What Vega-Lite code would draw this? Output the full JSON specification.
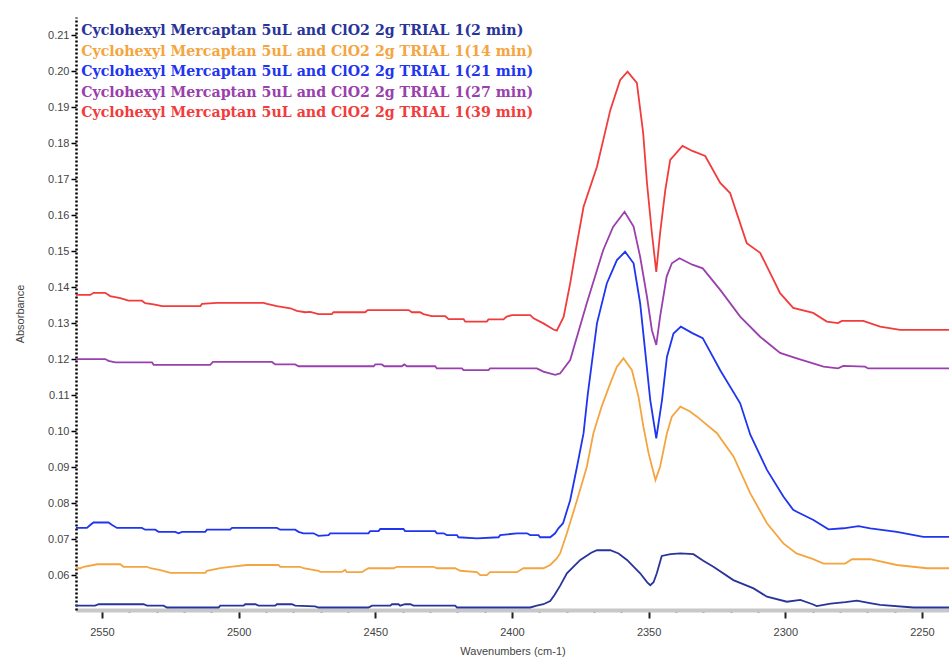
{
 "$schema": "https://vega.github.io/schema/vega-lite/v6.json",
 "width": 873,
 "height": 593,
 "autosize": {"type": "none"},
 "padding": {"left": 76, "top": 17, "right": 0, "bottom": 54},
 "background": "white",
 "config": {"view": {"stroke": null}},
 "data": {"values": [
  {"s":"2 min","wn":2560,"a":0.0515},{"s":"2 min","wn":2552.5,"a":0.0515},{"s":"2 min","wn":2551.2,"a":0.0519},{"s":"2 min","wn":2534.8,"a":0.0519},{"s":"2 min","wn":2533.5,"a":0.0515},{"s":"2 min","wn":2527.5,"a":0.0515},{"s":"2 min","wn":2526.2,"a":0.051},{"s":"2 min","wn":2507.3,"a":0.051},{"s":"2 min","wn":2506.7,"a":0.0515},{"s":"2 min","wn":2498.2,"a":0.0515},{"s":"2 min","wn":2497.6,"a":0.0519},{"s":"2 min","wn":2493.9,"a":0.0519},{"s":"2 min","wn":2492.7,"a":0.0515},{"s":"2 min","wn":2486.6,"a":0.0515},{"s":"2 min","wn":2486,"a":0.0519},{"s":"2 min","wn":2480.5,"a":0.0519},{"s":"2 min","wn":2479.3,"a":0.0515},{"s":"2 min","wn":2472,"a":0.0513},{"s":"2 min","wn":2470.8,"a":0.051},{"s":"2 min","wn":2452.5,"a":0.051},{"s":"2 min","wn":2451.2,"a":0.0515},{"s":"2 min","wn":2444.5,"a":0.0515},{"s":"2 min","wn":2443.9,"a":0.0519},{"s":"2 min","wn":2441.5,"a":0.0519},{"s":"2 min","wn":2440.9,"a":0.0515},{"s":"2 min","wn":2439.1,"a":0.0519},{"s":"2 min","wn":2437.2,"a":0.0519},{"s":"2 min","wn":2436,"a":0.0515},{"s":"2 min","wn":2420.8,"a":0.0515},{"s":"2 min","wn":2420.1,"a":0.051},{"s":"2 min","wn":2393.3,"a":0.051},{"s":"2 min","wn":2390.9,"a":0.0515},{"s":"2 min","wn":2388.5,"a":0.0519},{"s":"2 min","wn":2386,"a":0.0528},{"s":"2 min","wn":2384.5,"a":0.0544},{"s":"2 min","wn":2382.4,"a":0.057},{"s":"2 min","wn":2379.9,"a":0.0605},{"s":"2 min","wn":2375,"a":0.0642},{"s":"2 min","wn":2371,"a":0.0662},{"s":"2 min","wn":2368.9,"a":0.0669},{"s":"2 min","wn":2364,"a":0.0669},{"s":"2 min","wn":2361,"a":0.066},{"s":"2 min","wn":2357.9,"a":0.0642},{"s":"2 min","wn":2353.1,"a":0.0605},{"s":"2 min","wn":2350.5,"a":0.058},{"s":"2 min","wn":2349.4,"a":0.0572},{"s":"2 min","wn":2348.2,"a":0.058},{"s":"2 min","wn":2347,"a":0.0605},{"s":"2 min","wn":2345.2,"a":0.0653},{"s":"2 min","wn":2342,"a":0.0658},{"s":"2 min","wn":2338.4,"a":0.066},{"s":"2 min","wn":2333.6,"a":0.0658},{"s":"2 min","wn":2330,"a":0.064},{"s":"2 min","wn":2326.3,"a":0.0623},{"s":"2 min","wn":2319,"a":0.0586},{"s":"2 min","wn":2311.6,"a":0.0563},{"s":"2 min","wn":2306.7,"a":0.054},{"s":"2 min","wn":2299.4,"a":0.0526},{"s":"2 min","wn":2294.5,"a":0.0531},{"s":"2 min","wn":2290,"a":0.0519},{"s":"2 min","wn":2288.5,"a":0.0514},{"s":"2 min","wn":2283.4,"a":0.0521},{"s":"2 min","wn":2278,"a":0.0525},{"s":"2 min","wn":2273.8,"a":0.0529},{"s":"2 min","wn":2269,"a":0.0522},{"s":"2 min","wn":2265.3,"a":0.0517},{"s":"2 min","wn":2253.1,"a":0.051},{"s":"2 min","wn":2240,"a":0.051},

  {"s":"14 min","wn":2560,"a":0.0619},{"s":"14 min","wn":2557.9,"a":0.0619},{"s":"14 min","wn":2556.7,"a":0.0623},{"s":"14 min","wn":2553.1,"a":0.0628},{"s":"14 min","wn":2551.8,"a":0.063},{"s":"14 min","wn":2543.3,"a":0.063},{"s":"14 min","wn":2542.1,"a":0.0623},{"s":"14 min","wn":2533.5,"a":0.0623},{"s":"14 min","wn":2532.3,"a":0.0619},{"s":"14 min","wn":2528.6,"a":0.0614},{"s":"14 min","wn":2526.2,"a":0.0609},{"s":"14 min","wn":2525,"a":0.0606},{"s":"14 min","wn":2512.2,"a":0.0606},{"s":"14 min","wn":2511.6,"a":0.0612},{"s":"14 min","wn":2506.7,"a":0.0619},{"s":"14 min","wn":2503.1,"a":0.0623},{"s":"14 min","wn":2497,"a":0.0628},{"s":"14 min","wn":2485.4,"a":0.0628},{"s":"14 min","wn":2484.8,"a":0.0623},{"s":"14 min","wn":2477.5,"a":0.0623},{"s":"14 min","wn":2476.3,"a":0.0619},{"s":"14 min","wn":2470.8,"a":0.0612},{"s":"14 min","wn":2470.1,"a":0.0609},{"s":"14 min","wn":2462.2,"a":0.0609},{"s":"14 min","wn":2461,"a":0.0614},{"s":"14 min","wn":2460.4,"a":0.0608},{"s":"14 min","wn":2454.9,"a":0.0608},{"s":"14 min","wn":2453.7,"a":0.0614},{"s":"14 min","wn":2452.5,"a":0.0619},{"s":"14 min","wn":2443.3,"a":0.0619},{"s":"14 min","wn":2442.1,"a":0.0623},{"s":"14 min","wn":2428.7,"a":0.0623},{"s":"14 min","wn":2427.5,"a":0.0619},{"s":"14 min","wn":2420.8,"a":0.0619},{"s":"14 min","wn":2418.9,"a":0.0612},{"s":"14 min","wn":2412.8,"a":0.0608},{"s":"14 min","wn":2411.6,"a":0.06},{"s":"14 min","wn":2409.2,"a":0.06},{"s":"14 min","wn":2408,"a":0.0608},{"s":"14 min","wn":2398.2,"a":0.0608},{"s":"14 min","wn":2395.8,"a":0.0619},{"s":"14 min","wn":2388.5,"a":0.0619},{"s":"14 min","wn":2386,"a":0.0628},{"s":"14 min","wn":2383.6,"a":0.0646},{"s":"14 min","wn":2382.4,"a":0.066},{"s":"14 min","wn":2379.9,"a":0.0716},{"s":"14 min","wn":2376.2,"a":0.0808},{"s":"14 min","wn":2372.6,"a":0.0901},{"s":"14 min","wn":2370.2,"a":0.0994},{"s":"14 min","wn":2367.1,"a":0.107},{"s":"14 min","wn":2364,"a":0.1133},{"s":"14 min","wn":2361.6,"a":0.1179},{"s":"14 min","wn":2359.2,"a":0.1202},{"s":"14 min","wn":2356.1,"a":0.1169},{"s":"14 min","wn":2353.7,"a":0.1095},{"s":"14 min","wn":2351.9,"a":0.1012},{"s":"14 min","wn":2350,"a":0.0938},{"s":"14 min","wn":2347.5,"a":0.0864},{"s":"14 min","wn":2345.8,"a":0.0901},{"s":"14 min","wn":2343.3,"a":0.0994},{"s":"14 min","wn":2341.5,"a":0.104},{"s":"14 min","wn":2338.4,"a":0.1068},{"s":"14 min","wn":2335,"a":0.1055},{"s":"14 min","wn":2332.3,"a":0.104},{"s":"14 min","wn":2325,"a":0.0994},{"s":"14 min","wn":2318.9,"a":0.0929},{"s":"14 min","wn":2312.8,"a":0.0827},{"s":"14 min","wn":2306.7,"a":0.0744},{"s":"14 min","wn":2300.7,"a":0.0688},{"s":"14 min","wn":2295.9,"a":0.066},{"s":"14 min","wn":2290,"a":0.0645},{"s":"14 min","wn":2286,"a":0.0632},{"s":"14 min","wn":2278.1,"a":0.0632},{"s":"14 min","wn":2275.6,"a":0.0644},{"s":"14 min","wn":2268.9,"a":0.0644},{"s":"14 min","wn":2259.2,"a":0.0628},{"s":"14 min","wn":2248.2,"a":0.0619},{"s":"14 min","wn":2240,"a":0.0619},

  {"s":"21 min","wn":2560,"a":0.0731},{"s":"21 min","wn":2555.5,"a":0.0731},{"s":"21 min","wn":2554.3,"a":0.0739},{"s":"21 min","wn":2553.1,"a":0.0746},{"s":"21 min","wn":2547.6,"a":0.0746},{"s":"21 min","wn":2546.3,"a":0.0739},{"s":"21 min","wn":2544.5,"a":0.0731},{"s":"21 min","wn":2535.4,"a":0.0731},{"s":"21 min","wn":2534.2,"a":0.0726},{"s":"21 min","wn":2530.5,"a":0.0726},{"s":"21 min","wn":2529.3,"a":0.072},{"s":"21 min","wn":2523.2,"a":0.072},{"s":"21 min","wn":2522,"a":0.0716},{"s":"21 min","wn":2520.7,"a":0.072},{"s":"21 min","wn":2512.2,"a":0.072},{"s":"21 min","wn":2511.6,"a":0.0726},{"s":"21 min","wn":2503.1,"a":0.0726},{"s":"21 min","wn":2502.4,"a":0.0731},{"s":"21 min","wn":2486,"a":0.0731},{"s":"21 min","wn":2484.8,"a":0.0726},{"s":"21 min","wn":2479.3,"a":0.0726},{"s":"21 min","wn":2478.1,"a":0.072},{"s":"21 min","wn":2476.3,"a":0.0716},{"s":"21 min","wn":2472.6,"a":0.0716},{"s":"21 min","wn":2470.8,"a":0.0709},{"s":"21 min","wn":2467.1,"a":0.0711},{"s":"21 min","wn":2466.5,"a":0.0716},{"s":"21 min","wn":2452.5,"a":0.0716},{"s":"21 min","wn":2451.9,"a":0.0722},{"s":"21 min","wn":2448.8,"a":0.0722},{"s":"21 min","wn":2448.2,"a":0.0728},{"s":"21 min","wn":2439.7,"a":0.0728},{"s":"21 min","wn":2439.1,"a":0.0722},{"s":"21 min","wn":2428.1,"a":0.0722},{"s":"21 min","wn":2427.5,"a":0.0716},{"s":"21 min","wn":2425,"a":0.0716},{"s":"21 min","wn":2423.8,"a":0.0711},{"s":"21 min","wn":2420.1,"a":0.0711},{"s":"21 min","wn":2419.6,"a":0.0705},{"s":"21 min","wn":2412.8,"a":0.0702},{"s":"21 min","wn":2404.9,"a":0.0705},{"s":"21 min","wn":2404.3,"a":0.0711},{"s":"21 min","wn":2398.2,"a":0.0716},{"s":"21 min","wn":2394.5,"a":0.0716},{"s":"21 min","wn":2393.3,"a":0.0711},{"s":"21 min","wn":2390.3,"a":0.0711},{"s":"21 min","wn":2389.7,"a":0.0705},{"s":"21 min","wn":2386,"a":0.0705},{"s":"21 min","wn":2384.2,"a":0.0716},{"s":"21 min","wn":2383,"a":0.073},{"s":"21 min","wn":2381.3,"a":0.0744},{"s":"21 min","wn":2378.7,"a":0.0808},{"s":"21 min","wn":2376.2,"a":0.0901},{"s":"21 min","wn":2373.8,"a":0.0994},{"s":"21 min","wn":2372.3,"a":0.11},{"s":"21 min","wn":2368.9,"a":0.1299},{"s":"21 min","wn":2365.3,"a":0.141},{"s":"21 min","wn":2361.6,"a":0.1475},{"s":"21 min","wn":2358.6,"a":0.1498},{"s":"21 min","wn":2355.5,"a":0.1466},{"s":"21 min","wn":2353.1,"a":0.1355},{"s":"21 min","wn":2351.3,"a":0.1225},{"s":"21 min","wn":2349.4,"a":0.1086},{"s":"21 min","wn":2347.2,"a":0.098},{"s":"21 min","wn":2345.1,"a":0.1086},{"s":"21 min","wn":2343.3,"a":0.1206},{"s":"21 min","wn":2340.9,"a":0.1271},{"s":"21 min","wn":2338.2,"a":0.129},{"s":"21 min","wn":2334,"a":0.1272},{"s":"21 min","wn":2330.2,"a":0.1258},{"s":"21 min","wn":2323.8,"a":0.1169},{"s":"21 min","wn":2316.5,"a":0.1077},{"s":"21 min","wn":2312.8,"a":0.099},{"s":"21 min","wn":2306.7,"a":0.0892},{"s":"21 min","wn":2300.7,"a":0.0818},{"s":"21 min","wn":2297.1,"a":0.0781},{"s":"21 min","wn":2295.8,"a":0.0776},{"s":"21 min","wn":2289.7,"a":0.0753},{"s":"21 min","wn":2284.2,"a":0.0727},{"s":"21 min","wn":2278.7,"a":0.073},{"s":"21 min","wn":2273.2,"a":0.0736},{"s":"21 min","wn":2268.9,"a":0.073},{"s":"21 min","wn":2259.2,"a":0.072},{"s":"21 min","wn":2249.5,"a":0.0706},{"s":"21 min","wn":2240,"a":0.0706},

  {"s":"27 min","wn":2560,"a":0.12},{"s":"27 min","wn":2548.8,"a":0.12},{"s":"27 min","wn":2547.6,"a":0.1195},{"s":"27 min","wn":2545.1,"a":0.1191},{"s":"27 min","wn":2531.7,"a":0.1191},{"s":"27 min","wn":2531.1,"a":0.1184},{"s":"27 min","wn":2510.4,"a":0.1184},{"s":"27 min","wn":2509.4,"a":0.1192},{"s":"27 min","wn":2487.8,"a":0.1192},{"s":"27 min","wn":2486.6,"a":0.1185},{"s":"27 min","wn":2479.3,"a":0.1185},{"s":"27 min","wn":2478.1,"a":0.118},{"s":"27 min","wn":2450.6,"a":0.118},{"s":"27 min","wn":2450,"a":0.1185},{"s":"27 min","wn":2447.6,"a":0.1185},{"s":"27 min","wn":2446.7,"a":0.118},{"s":"27 min","wn":2440.3,"a":0.118},{"s":"27 min","wn":2439.4,"a":0.1185},{"s":"27 min","wn":2438.4,"a":0.118},{"s":"27 min","wn":2428.1,"a":0.118},{"s":"27 min","wn":2427.5,"a":0.1174},{"s":"27 min","wn":2418.3,"a":0.1174},{"s":"27 min","wn":2417.7,"a":0.1169},{"s":"27 min","wn":2408.6,"a":0.1169},{"s":"27 min","wn":2408,"a":0.1174},{"s":"27 min","wn":2390.9,"a":0.1174},{"s":"27 min","wn":2388.5,"a":0.1165},{"s":"27 min","wn":2384.2,"a":0.1156},{"s":"27 min","wn":2382.4,"a":0.116},{"s":"27 min","wn":2378.7,"a":0.1197},{"s":"27 min","wn":2372.6,"a":0.1356},{"s":"27 min","wn":2366.6,"a":0.1503},{"s":"27 min","wn":2363,"a":0.1567},{"s":"27 min","wn":2358.8,"a":0.1609},{"s":"27 min","wn":2355.5,"a":0.1568},{"s":"27 min","wn":2353.1,"a":0.1484},{"s":"27 min","wn":2350.6,"a":0.1373},{"s":"27 min","wn":2348.8,"a":0.128},{"s":"27 min","wn":2347.2,"a":0.1239},{"s":"27 min","wn":2345.8,"a":0.1318},{"s":"27 min","wn":2343.4,"a":0.1429},{"s":"27 min","wn":2341.5,"a":0.1466},{"s":"27 min","wn":2338.7,"a":0.148},{"s":"27 min","wn":2334,"a":0.1462},{"s":"27 min","wn":2330.2,"a":0.1452},{"s":"27 min","wn":2323.8,"a":0.1392},{"s":"27 min","wn":2316.5,"a":0.1318},{"s":"27 min","wn":2309.2,"a":0.1262},{"s":"27 min","wn":2301.9,"a":0.1217},{"s":"27 min","wn":2295.8,"a":0.1202},{"s":"27 min","wn":2286,"a":0.1179},{"s":"27 min","wn":2280.7,"a":0.1174},{"s":"27 min","wn":2278.8,"a":0.1181},{"s":"27 min","wn":2270.8,"a":0.1179},{"s":"27 min","wn":2269.7,"a":0.1174},{"s":"27 min","wn":2240,"a":0.1174},

  {"s":"39 min","wn":2560,"a":0.1378},{"s":"39 min","wn":2554.3,"a":0.1378},{"s":"39 min","wn":2553.1,"a":0.1384},{"s":"39 min","wn":2548.8,"a":0.1384},{"s":"39 min","wn":2547,"a":0.1375},{"s":"39 min","wn":2543.3,"a":0.1369},{"s":"39 min","wn":2540.3,"a":0.1362},{"s":"39 min","wn":2535.4,"a":0.1362},{"s":"39 min","wn":2534.2,"a":0.1355},{"s":"39 min","wn":2531.1,"a":0.1352},{"s":"39 min","wn":2528,"a":0.1347},{"s":"39 min","wn":2514,"a":0.1347},{"s":"39 min","wn":2513.4,"a":0.1353},{"s":"39 min","wn":2507.9,"a":0.1356},{"s":"39 min","wn":2490.9,"a":0.1356},{"s":"39 min","wn":2489.6,"a":0.1353},{"s":"39 min","wn":2486,"a":0.1347},{"s":"39 min","wn":2481.1,"a":0.1341},{"s":"39 min","wn":2478.7,"a":0.1334},{"s":"39 min","wn":2475.6,"a":0.133},{"s":"39 min","wn":2473.8,"a":0.1331},{"s":"39 min","wn":2470.8,"a":0.1325},{"s":"39 min","wn":2465.9,"a":0.1325},{"s":"39 min","wn":2465.3,"a":0.133},{"s":"39 min","wn":2453.7,"a":0.133},{"s":"39 min","wn":2452.8,"a":0.1336},{"s":"39 min","wn":2437.8,"a":0.1336},{"s":"39 min","wn":2436.6,"a":0.133},{"s":"39 min","wn":2433.6,"a":0.133},{"s":"39 min","wn":2432.4,"a":0.1325},{"s":"39 min","wn":2429.3,"a":0.1319},{"s":"39 min","wn":2424.4,"a":0.1319},{"s":"39 min","wn":2423.2,"a":0.1311},{"s":"39 min","wn":2417.7,"a":0.1311},{"s":"39 min","wn":2417.1,"a":0.1304},{"s":"39 min","wn":2409.2,"a":0.1304},{"s":"39 min","wn":2408.6,"a":0.131},{"s":"39 min","wn":2403.1,"a":0.131},{"s":"39 min","wn":2401.9,"a":0.1318},{"s":"39 min","wn":2400,"a":0.1322},{"s":"39 min","wn":2393.3,"a":0.1322},{"s":"39 min","wn":2392.1,"a":0.1313},{"s":"39 min","wn":2388.5,"a":0.1299},{"s":"39 min","wn":2384.8,"a":0.1282},{"s":"39 min","wn":2383.6,"a":0.1279},{"s":"39 min","wn":2381.1,"a":0.1317},{"s":"39 min","wn":2378.7,"a":0.141},{"s":"39 min","wn":2376.2,"a":0.1522},{"s":"39 min","wn":2373.8,"a":0.1623},{"s":"39 min","wn":2368.9,"a":0.1734},{"s":"39 min","wn":2364,"a":0.1892},{"s":"39 min","wn":2360.4,"a":0.1975},{"s":"39 min","wn":2357.7,"a":0.1998},{"s":"39 min","wn":2354.3,"a":0.1967},{"s":"39 min","wn":2352,"a":0.1828},{"s":"39 min","wn":2350.6,"a":0.1689},{"s":"39 min","wn":2348.8,"a":0.155},{"s":"39 min","wn":2347.2,"a":0.1442},{"s":"39 min","wn":2345.8,"a":0.155},{"s":"39 min","wn":2343.9,"a":0.1669},{"s":"39 min","wn":2342.1,"a":0.1753},{"s":"39 min","wn":2337.6,"a":0.1792},{"s":"39 min","wn":2334,"a":0.1778},{"s":"39 min","wn":2329.3,"a":0.1764},{"s":"39 min","wn":2323.8,"a":0.1689},{"s":"39 min","wn":2320.2,"a":0.1661},{"s":"39 min","wn":2314.1,"a":0.1522},{"s":"39 min","wn":2309.2,"a":0.1495},{"s":"39 min","wn":2305.6,"a":0.144},{"s":"39 min","wn":2301.9,"a":0.1383},{"s":"39 min","wn":2297.1,"a":0.1342},{"s":"39 min","wn":2289.8,"a":0.1328},{"s":"39 min","wn":2284.8,"a":0.1304},{"s":"39 min","wn":2280.7,"a":0.13},{"s":"39 min","wn":2279.3,"a":0.1306},{"s":"39 min","wn":2271.5,"a":0.1306},{"s":"39 min","wn":2265.3,"a":0.129},{"s":"39 min","wn":2258,"a":0.1281},{"s":"39 min","wn":2240,"a":0.1281}
 ]},
 "mark": {"type": "line", "strokeWidth": 1.8, "clip": true},
 "encoding": {
  "x": {"field": "wn", "type": "quantitative",
   "scale": {"domain": [2240.1, 2559.5], "reverse": true, "nice": false, "zero": false},
   "axis": {"title": "Wavenumbers (cm-1)",
    "values": [2250,2260,2270,2280,2290,2300,2310,2320,2330,2340,2350,2360,2370,2380,2390,2400,2410,2420,2430,2440,2450,2460,2470,2480,2490,2500,2510,2520,2530,2540,2550],
    "format": "d",
    "labelExpr": "datum.value % 50 === 0 ? datum.label : ''",
    "grid": false,
    "domainColor": "#c8c8c8", "domainWidth": 4,
    "tickColor": "#222",
    "tickSize": {"condition": {"test": "datum.value % 50 === 0", "value": 8}, "value": 2},
    "tickWidth": 2,
    "labelFont": "Liberation Sans", "labelFontSize": 11, "labelColor": "#444", "labelPadding": 8,
    "labelFlush": false, "labelOverlap": false,
    "titleFont": "Liberation Sans", "titleFontSize": 11, "titleFontWeight": "normal", "titleColor": "#444", "titlePadding": 8}},
  "y": {"field": "a", "type": "quantitative",
   "scale": {"domain": [0.0503, 0.215], "nice": false, "zero": false},
   "axis": {"title": "Absorbance",
    "values": [0.06,0.07,0.08,0.09,0.1,0.11,0.12,0.13,0.14,0.15,0.16,0.17,0.18,0.19,0.2,0.21],
    "format": ".2f", "grid": false,
    "domainColor": "#000", "domainDash": [2, 2], "domainWidth": 2.5,
    "tickColor": "#000", "tickSize": 5, "tickWidth": 1.5,
    "labelFont": "Liberation Sans", "labelFontSize": 11, "labelColor": "#444", "labelPadding": 2,
    "titleFont": "Liberation Sans", "titleFontSize": 11, "titleFontWeight": "normal", "titleColor": "#444", "titlePadding": 22}},
  "color": {"field": "s", "type": "nominal",
   "scale": {"domain": ["2 min", "14 min", "21 min", "27 min", "39 min"],
             "range": ["#29349a", "#f5a540", "#1f35f0", "#9a40ad", "#f23c3c"]},
   "legend": {"orient": "none", "legendX": -9, "legendY": 7, "title": null, "padding": 0,
    "symbolSize": 0, "symbolStrokeWidth": 0, "symbolOpacity": 0, "labelOffset": 0,
    "labelFont": "DejaVu Serif", "labelFontSize": 14.2, "labelFontWeight": "bold", "labelLimit": 0,
    "rowPadding": 5.5,
    "labelExpr": "'Cyclohexyl Mercaptan 5uL and ClO2 2g TRIAL 1(' + datum.label + ')'",
    "encode": {"labels": {"update": {"fill": {"scale": "color", "field": "value"}}}}}}
 }
}
